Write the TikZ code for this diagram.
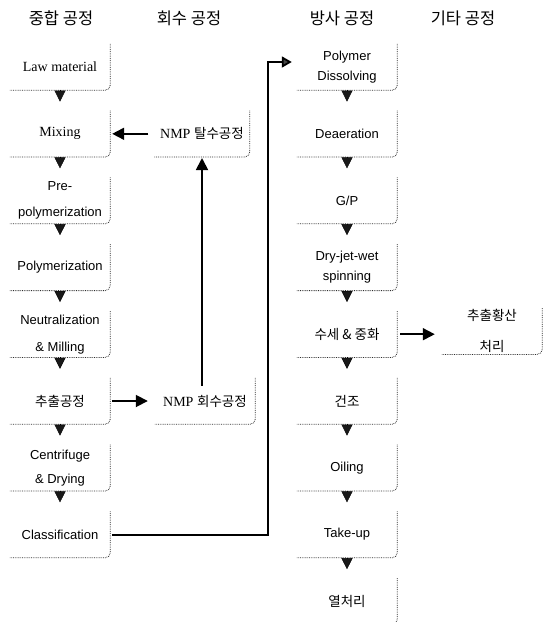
\documentclass[tikz,border=0pt]{standalone}
\usepackage{fontspec}
\setmainfont{Liberation Sans}
\newfontfamily\krfont{Noto Sans CJK KR}
\newfontfamily\serfont{Liberation Serif}
\usetikzlibrary{arrows.meta,positioning}

\newcommand{\sertext}[1]{{\serfont\fontsize{14}{17}\selectfont #1}}
\newcommand{\kr}[1]{{\krfont\fontsize{13.5}{16}\selectfont #1}}

\begin{document}
\begin{tikzpicture}[
	x = 1pt, y = -1pt,
	declare function = {
		row(\k) = 67+66.8*\k;
	},
	proc/.style = {minimum width = 100pt, minimum height = 46pt, inner sep = 0pt,
		align = center, font = \fontsize{13}{16}\selectfont},
	boxedge/.style = {densely dotted, gray!35!black, line width = 0.8pt, rounded corners = 5pt},
	flow/.style = {-{Triangle[length=11pt,width=11pt,fill=gray!20!black]}, line width = 0.4pt, shorten >= 9pt},
	link/.style = {line width = 1.8pt, -{Triangle[length=12pt,width=12pt]}},
	head/.style = {font = \krfont\fontsize{16.5}{20}\selectfont}
	]

	\useasboundingbox (0,0) rectangle (546,622);

	% headers
	\node[head] (hpoly) at (61,18) {중합 공정};
	\node[head] (hrec) at (189,18) {회수 공정};
	\node[head] (hspin) at (342,18) {방사 공정};
	\node[head] (hetc) at (463,18) {기타 공정};

	% polymerization
	\node[proc] (law) at (60,{row(0)}) {\sertext{Law material}};
	\node[proc] (mix) at (60,{row(1)}) {\sertext{Mixing}};
	\node[proc] (pre) at (60,{row(2)}) {Pre-\\[10pt]polymerization};
	\node[proc] (pol) at (60,{row(3)}) {Polymerization};
	\node[proc] (neu) at (60,{row(4)}) {Neutralization\\[11pt]\& Milling};
	\node[proc] (ext) at (60,{row(5)}) {\kr{추출공정}};
	\node[proc] (cen) at (60,{row(6)}) {Centrifuge\\[8pt]\& Drying};
	\node[proc] (cls) at (60,{row(7)}) {Classification};

	% recovery
	\node[proc, minimum width = 95pt] (tal) at (202,{row(1)}) {\sertext{NMP} \kr{탈수공정}};
	\node[proc] (hoe) at (205,{row(5)}) {\sertext{NMP} \kr{회수공정}};

	% spinning
	\node[proc] (dis) at (347,{row(0)}) {Polymer\\[4pt]Dissolving};
	\node[proc] (dea) at (347,{row(1)}) {Deaeration};
	\node[proc] (gp) at (347,{row(2)}) {G/P};
	\node[proc] (spin) at (347,{row(3)}) {Dry-jet-wet\\[4pt]spinning};
	\node[proc] (wash) at (347,{row(4)}) {\kr{수세 \& 중화}};
	\node[proc] (dry) at (347,{row(5)}) {\kr{건조}};
	\node[proc] (oil) at (347,{row(6)}) {Oiling};
	\node[proc] (take) at (347,{row(7)}) {Take-up};
	\node[proc] (heat) at (347,{row(8)}) {\kr{열처리}};

	% others
	\node[proc] (acid) at (492,{row(4)-3}) {\kr{추출황산}\\[15pt]\kr{처리}};

	\foreach \n in {law,mix,pre,pol,neu,ext,cen,cls,tal,hoe,dis,dea,gp,spin,wash,dry,oil,take,heat,acid}
		\draw[boxedge] (\n.north east) |- (\n.south west);

	\foreach \a/\b in {law/mix,mix/pre,pre/pol,pol/neu,neu/ext,ext/cen,cen/cls,
		dis/dea,dea/gp,gp/spin,spin/wash,wash/dry,dry/oil,oil/take,take/heat}
		\draw[flow] (\a.south) -- (\b.north);

	\draw[link, shorten <= 6pt, shorten >= 2pt] (tal.west) -- (mix.east);
	\draw[link, shorten <= 2pt, shorten >= 7pt] (ext.east) -- (hoe.west);
	\draw[link, shorten <= -8pt, shorten >= 1pt] (tal.south |- hoe.north) -- (tal.south);
	\draw[link, shorten <= 3pt, shorten >= 7pt] (wash.east) -- (acid.west |- wash.east);

	\coordinate (turn) at (268,62);
	\draw[link, -{Triangle[length=10pt,width=11pt,fill=gray!55!black]}, shorten <= 2pt, shorten >= 5pt]
		(cls.east) -| (turn) -- (turn -| dis.west);

\end{tikzpicture}
\end{document}
